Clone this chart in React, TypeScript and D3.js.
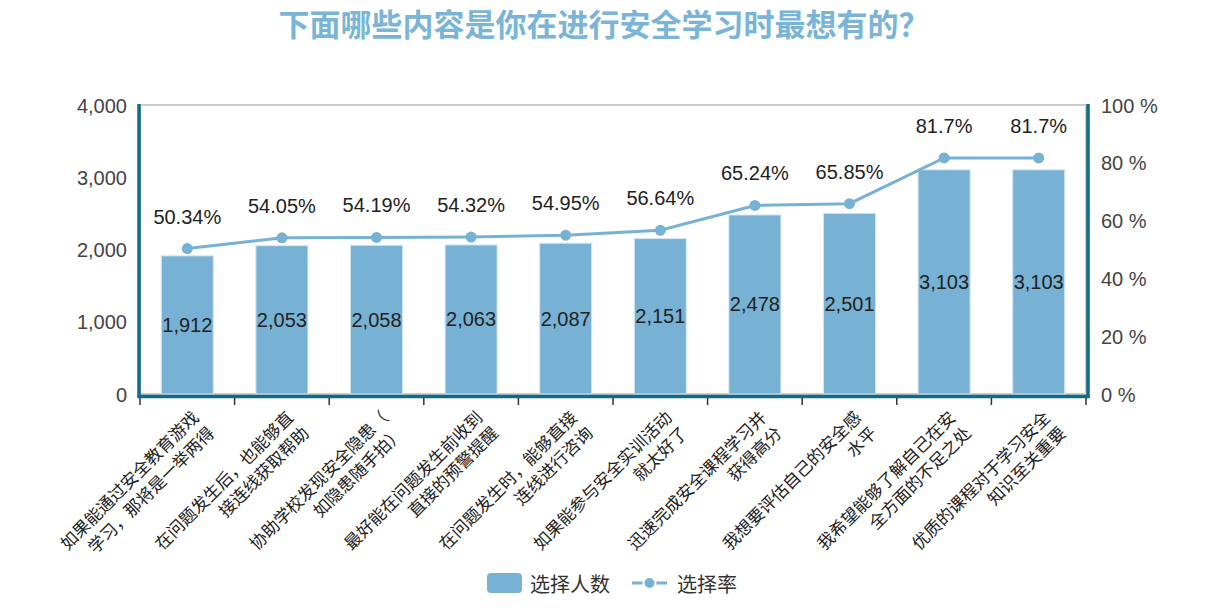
import { useRef, useEffect } from "react";
import * as d3 from "d3";

const categories: string[][] = [
    ["如果能通过安全教育游戏", "学习，那将是一举两得"],
    ["在问题发生后，也能够直", "接连线获取帮助"],
    ["协助学校发现安全隐患（", "如隐患随手拍）"],
    ["最好能在问题发生前收到", "直接的预警提醒"],
    ["在问题发生时，能够直接", "连线进行咨询"],
    ["如果能参与安全实训活动", "就太好了"],
    ["迅速完成安全课程学习并", "获得高分"],
    ["我想要评估自己的安全感", "水平"],
    ["我希望能够了解自己在安", "全方面的不足之处"],
    ["优质的课程对于学习安全", "知识至关重要"],
];

const counts = [1912, 2053, 2058, 2063, 2087, 2151, 2478, 2501, 3103, 3103];
const rates = [50.34, 54.05, 54.19, 54.32, 54.95, 56.64, 65.24, 65.85, 81.7, 81.7];

const leftTicks = [0, 1000, 2000, 3000, 4000];
const rightTicks = [0, 20, 40, 60, 80, 100];

const W = 1225;
const H = 612;
const BLUE = "#77b2d5";
const TEAL = "#0f6b8a";
const NUM_FONT = "'Liberation Sans', Arial, 'Noto Sans CJK SC', sans-serif";
const CJK_FONT = "'Noto Sans CJK SC', 'Liberation Sans', sans-serif";

export default function App() {
    const svgRef = useRef<SVGSVGElement | null>(null);

    useEffect(() => {
        if (!svgRef.current) return;
        const svg = d3.select(svgRef.current);
        svg.selectAll("*").remove();

        const margin = { top: 105, right: 139, bottom: 218, left: 140 };
        const x0 = margin.left, x1 = W - margin.right;
        const y0 = margin.top, y1 = H - margin.bottom;

        const idx = categories.map((_, i) => String(i));
        const x = d3.scaleBand().domain(idx).range([x0, x1]).padding(0);
        const y = d3.scaleLinear().domain([0, 4000]).range([y1, y0]);
        const yR = d3.scaleLinear().domain([0, 100]).range([y1, y0]);
        const cx = (i: number) => x(String(i))! + x.bandwidth() / 2;
        const barW = x.bandwidth() * 0.55;

        // title
        svg.append("text")
            .attr("x", 604).attr("y", 22)
            .attr("text-anchor", "middle").attr("dominant-baseline", "central")
            .attr("font-family", CJK_FONT).attr("font-size", 31).attr("font-weight", "bold")
            .attr("fill", "#7ab5d7")
            .text("下面哪些内容是你在进行安全学习时最想有的？");

        // frame
        svg.append("rect")
            .attr("x", x0).attr("y", y0).attr("width", x1 - x0).attr("height", y1 - y0)
            .attr("fill", "none").attr("stroke", "#cccccc").attr("stroke-width", 2);

        // bars
        svg.append("g").selectAll("rect")
            .data(counts)
            .enter()
            .append("rect")
            .attr("x", (_d, i) => cx(i) - barW / 2)
            .attr("y", d => y(d))
            .attr("width", barW)
            .attr("height", d => y(0) - y(d))
            .attr("fill", BLUE)
            .attr("stroke", "#d3e6f2").attr("stroke-width", 1);

        // bar labels
        svg.append("g").selectAll("text")
            .data(counts)
            .enter()
            .append("text")
            .attr("x", (_d, i) => cx(i))
            .attr("y", d => (y(d) + y(0)) / 2)
            .attr("text-anchor", "middle").attr("dominant-baseline", "central")
            .attr("font-family", NUM_FONT).attr("font-size", 20).attr("fill", "#222")
            .text(d => d3.format(",")(d));

        // axes lines (teal)
        const axisG = svg.append("g").attr("stroke", TEAL).attr("stroke-width", 3.5);
        axisG.append("line").attr("x1", x0 - 1).attr("x2", x0 - 1).attr("y1", y0 - 1).attr("y2", y1 + 4);
        axisG.append("line").attr("x1", x1 + 2).attr("x2", x1 + 2).attr("y1", y0 - 1).attr("y2", y1 + 4);
        axisG.append("line").attr("x1", x0 - 2.5).attr("x2", x1 + 3.5).attr("y1", y1 + 2.5).attr("y2", y1 + 2.5);

        // x ticks at band edges
        svg.append("g").selectAll("line")
            .data(d3.range(categories.length + 1))
            .enter()
            .append("line")
            .attr("x1", i => x0 + i * x.step()).attr("x2", i => x0 + i * x.step())
            .attr("y1", y1 + 4).attr("y2", y1 + 11)
            .attr("stroke", "#333").attr("stroke-width", 1.5);

        // left ticks
        const leftAxis = svg.append("g")
            .attr("transform", `translate(${x0 - 13},0)`)
            .call(d3.axisLeft(y).tickValues(leftTicks).tickSize(0).tickFormat(d => d3.format(",")(d as number)));
        leftAxis.select(".domain").remove();
        leftAxis.selectAll("text")
            .attr("font-family", NUM_FONT).attr("font-size", 20).attr("fill", "#444")
            .attr("dy", "0.35em").attr("x", 0);

        // right ticks
        const rightAxis = svg.append("g")
            .attr("transform", `translate(${x1 + 15},0)`)
            .call(d3.axisRight(yR).tickValues(rightTicks).tickSize(0).tickFormat(d => `${d} %`));
        rightAxis.select(".domain").remove();
        rightAxis.selectAll("text")
            .attr("font-family", NUM_FONT).attr("font-size", 20).attr("fill", "#444")
            .attr("dy", "0.35em").attr("x", 0);

        // x labels, rotated
        const lab = svg.append("g").selectAll("g")
            .data(categories)
            .enter()
            .append("g")
            .attr("transform", (_d, i) => `translate(${cx(i) + 7},413) rotate(-45)`);
        lab.append("text")
            .attr("text-anchor", "end").attr("dominant-baseline", "central")
            .attr("font-family", CJK_FONT).attr("font-size", 17).attr("fill", "#222")
            .selectAll("tspan")
            .data(d => d)
            .enter()
            .append("tspan")
            .attr("x", 0)
            .attr("y", (_d, j) => j * 22)
            .text(d => d);

        // rate line
        const line = d3.line<number>()
            .x((_d, i) => cx(i))
            .y(d => yR(d));
        svg.append("path")
            .datum(rates)
            .attr("d", line)
            .attr("fill", "none").attr("stroke", BLUE).attr("stroke-width", 3);
        svg.append("g").selectAll("circle")
            .data(rates)
            .enter()
            .append("circle")
            .attr("cx", (_d, i) => cx(i)).attr("cy", d => yR(d))
            .attr("r", 5.5).attr("fill", BLUE);
        svg.append("g").selectAll("text")
            .data(rates)
            .enter()
            .append("text")
            .attr("x", (_d, i) => cx(i))
            .attr("y", d => yR(d) - 32)
            .attr("text-anchor", "middle").attr("dominant-baseline", "central")
            .attr("font-family", NUM_FONT).attr("font-size", 20).attr("fill", "#222")
            .text(d => `${d}%`);

        // legend
        const lg = svg.append("g");
        lg.append("rect").attr("x", 487).attr("y", 573).attr("width", 35).attr("height", 20)
            .attr("rx", 4).attr("fill", BLUE);
        lg.append("text").attr("x", 530).attr("y", 583)
            .attr("dominant-baseline", "central")
            .attr("font-family", CJK_FONT).attr("font-size", 20).attr("fill", "#333")
            .text("选择人数");
        lg.append("line").attr("x1", 632).attr("x2", 667).attr("y1", 583).attr("y2", 583)
            .attr("stroke", BLUE).attr("stroke-width", 3);
        lg.append("circle").attr("cx", 649.5).attr("cy", 583).attr("r", 6)
            .attr("fill", BLUE).attr("stroke", "#fff").attr("stroke-width", 2);
        lg.append("text").attr("x", 677).attr("y", 583)
            .attr("dominant-baseline", "central")
            .attr("font-family", CJK_FONT).attr("font-size", 20).attr("fill", "#333")
            .text("选择率");
    }, []);

    return (
        <svg
            ref={svgRef}
            width={W}
            height={H}
            style={{ position: "absolute", left: 0, top: 0, background: "#fff" }}
        />
    );
}
